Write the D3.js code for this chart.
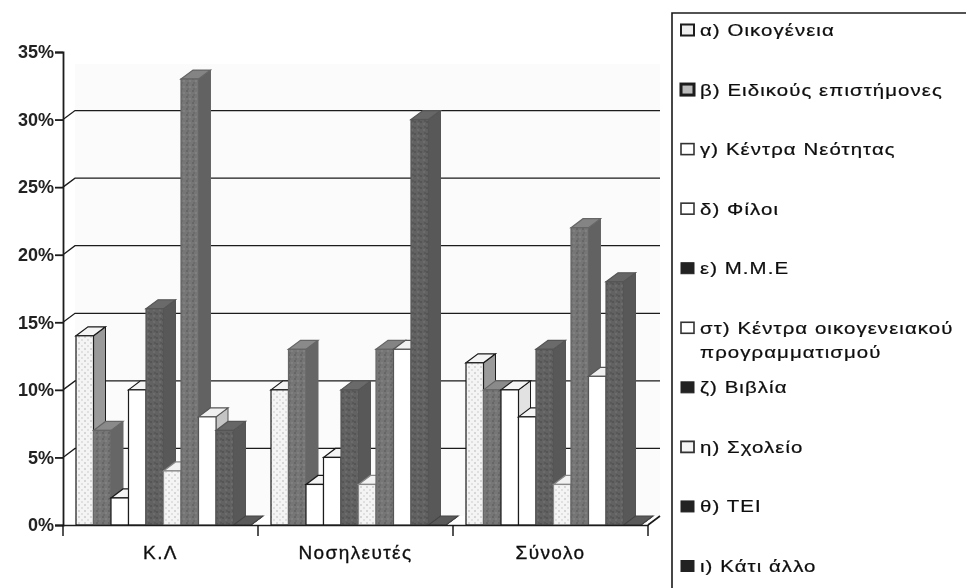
<!DOCTYPE html>
<html>
<head>
<meta charset="utf-8">
<script src="https://cdn.jsdelivr.net/npm/d3@7/dist/d3.min.js"></script>
<style>
  html, body { margin: 0; padding: 0; background: #fff; }
  svg { display: block; }
</style>
</head>
<body>
<div id="chart"></div>
<script>
(function () {
  const categories = ["Κ.Λ", "Νοσηλευτές", "Σύνολο"];
  const seriesLabels = ["α) Οικογένεια", "β) Ειδικούς επιστήμονες", "γ) Κέντρα Νεότητας", "δ) Φίλοι", "ε) Μ.Μ.Ε",
    "στ) Κέντρα οικογενειακού", "ζ) Βιβλία", "η) Σχολείο", "θ) ΤΕΙ", "ι) Κάτι άλλο"];
  const seriesLabelExtra = ["", "", "", "", "", "προγραμματισμού", "", "", "", ""];
  const yTicks = [0, 5, 10, 15, 20, 25, 30, 35];

  const klValues = [14, 7, 2, 10, 16, 4, 33, 8, 7, 0];
  const nurseValues = [10, 13, 3, 5, 10, 3, 13, 13, 30, 0];
  const totalValues = [12, 10, 10, 8, 13, 3, 22, 11, 18, 0];

  const W = 966, H = 588;
  const INK = "#1a1a1a";
  const FONT = '"Liberation Sans", Arial, sans-serif';
  const DX = 12, DY = 9;

  // face fill, side, top per series
  const faces = [
    { front: "url(#dots)", side: "#9a9a9a", top: "#f4f4f4", line: INK },
    { front: "url(#grainMid)", side: "#666", top: "#8a8a8a", line: "#666" },
    { front: "#fff", side: "#e2e2e2", top: "#f4f4f4", line: INK },
    { front: "#fff", side: "#dcdcdc", top: "#f4f4f4", line: INK },
    { front: "url(#grainDark)", side: "#595959", top: "#6a6a6a", line: "#555" },
    { front: "url(#dots)", side: "#d0d0d0", top: "#f2f2f2", line: "#888" },
    { front: "url(#grainMid)", side: "#626262", top: "#848484", line: "#666" },
    { front: "#fff", side: "#c4c4c4", top: "#f0f0f0", line: "#555" },
    { front: "url(#grainDark)", side: "#595959", top: "#666", line: "#555" },
    { front: "url(#grainDark)", side: "#595959", top: "#5a5a5a", line: "#444" }
  ];
  const swatches = [
    { fill: "#eee", stroke: INK, sw: 2 }, { fill: "#bbb", stroke: INK, sw: 3 },
    { fill: "#fff", stroke: "#333", sw: 1.6 }, { fill: "#fff", stroke: "#333", sw: 1.6 },
    { fill: "#222", stroke: "#222", sw: 1 }, { fill: "#fff", stroke: "#333", sw: 1.6 },
    { fill: "#222", stroke: "#222", sw: 1 }, { fill: "#f4f4f4", stroke: "#333", sw: 1.8 },
    { fill: "#222", stroke: "#222", sw: 1 }, { fill: "#222", stroke: "#222", sw: 1 }
  ];

  const svg = d3.select("#chart").append("svg")
    .attr("width", W).attr("height", H)
    .style("font-family", FONT);

  const defs = svg.append("defs");
  defs.append("filter").attr("id", "scan")
    .append("feGaussianBlur").attr("stdDeviation", 0.5);

  function addGrain(id, base, spots) {
    const p = defs.append("pattern").attr("id", id)
      .attr("patternUnits", "userSpaceOnUse").attr("width", 6).attr("height", 6);
    p.append("rect").attr("width", 6).attr("height", 6).attr("fill", base);
    spots.forEach(s => {
      p.append("rect").attr("x", s[0]).attr("y", s[1]).attr("width", 2).attr("height", 2).attr("fill", s[2]);
    });
  }
  addGrain("dots", "#f4f4f4", [[0, 0, "#d6d6d6"], [3, 3, "#e0e0e0"]]);
  addGrain("grainMid", "#767676", [[0, 0, "#666"], [3, 2, "#808080"], [1, 4, "#6c6c6c"]]);
  addGrain("grainDark", "#626262", [[0, 1, "#545454"], [3, 3, "#6c6c6c"], [4, 0, "#585858"]]);

  const plot = svg.append("g").attr("filter", "url(#scan)");

  const x0 = d3.scaleBand().domain(categories).range([63, 648]);
  const x1 = d3.scaleBand().domain(seriesLabels).range([13, 188]);
  const y = d3.scaleLinear().domain([0, 35]).range([525, 52]);

  // back wall
  plot.append("rect")
    .attr("x", x0.range()[0] + DX).attr("y", y(33) - DY - 6)
    .attr("width", x0.range()[1] - x0.range()[0]).attr("height", y(0) - y(33) + 6)
    .attr("fill", "#fbfbfb");

  // gridlines on the back wall, with the diagonal down to each tick
  yTicks.filter(t => t > 0 && t < 35).forEach(t => {
    plot.append("path")
      .attr("d", d3.line()([
        [x0.range()[0], y(t)],
        [x0.range()[0] + DX, y(t) - DY],
        [x0.range()[1] + DX, y(t) - DY]
      ]))
      .attr("fill", "none").attr("stroke", INK).attr("stroke-width", 1.3);
  });

  // bars, left to right so later bars cover the sides of earlier ones
  const valueRows = [klValues, nurseValues, totalValues];
  categories.forEach((cat, ci) => {
    seriesLabels.forEach((name, si) => {
      const v = valueRows[ci][si];
      const f = faces[si];
      const xl = x0(cat) + x1(name);
      const w = x1.bandwidth();
      const yt = y(v), yb = y(0);
      const g = plot.append("g");

      g.append("path")
        .attr("d", d3.line()([[xl + w, yt], [xl + w + DX, yt - DY], [xl + w + DX, yb - DY], [xl + w, yb]]) + "Z")
        .attr("fill", f.side).attr("stroke", f.line).attr("stroke-width", 1);
      g.append("path")
        .attr("d", d3.line()([[xl, yt], [xl + DX, yt - DY], [xl + w + DX, yt - DY], [xl + w, yt]]) + "Z")
        .attr("fill", f.top).attr("stroke", f.line).attr("stroke-width", 1.2);
      g.append("rect")
        .attr("x", xl).attr("y", yt).attr("width", w).attr("height", yb - yt)
        .attr("fill", f.front).attr("stroke", f.line).attr("stroke-width", 1.2);
    });
  });

  // axes
  const yAxis = d3.axisLeft(y).tickValues(yTicks).tickFormat(d => d + "%").tickSize(8).tickPadding(1);
  const yG = plot.append("g").attr("transform", `translate(${x0.range()[0]},0)`).call(yAxis);
  yG.selectAll("text").attr("font-size", 18).attr("font-weight", 700).attr("fill", "#222").style("font-family", FONT);

  const xAxis = d3.axisBottom(x0).tickSize(0).tickPadding(21);
  const xG = plot.append("g").attr("transform", `translate(0,${y(0)})`).call(xAxis);
  xG.selectAll("text").attr("font-size", 19).attr("font-weight", 400).attr("fill", "#111")
    .attr("letter-spacing", 1.4)
    .attr("stroke", "#111").attr("stroke-width", 0.35).style("font-family", FONT);

  yG.selectAll("path, line").attr("stroke", INK).attr("stroke-width", 1.8);
  xG.selectAll("path").attr("stroke", INK).attr("stroke-width", 1.6);

  // separators under the category axis
  x0.domain().concat([null]).forEach(c => {
    const xp = c === null ? x0.range()[1] : x0(c);
    plot.append("line")
      .attr("x1", xp).attr("x2", xp).attr("y1", y(0)).attr("y2", y(0) + 11)
      .attr("stroke", INK).attr("stroke-width", 1.5);
  });
  plot.append("line")
    .attr("x1", x0.range()[1]).attr("y1", y(0))
    .attr("x2", x0.range()[1] + DX).attr("y2", y(0) - DY)
    .attr("stroke", INK).attr("stroke-width", 1.6);

  // legend
  const legendY = d3.scalePoint().domain(seriesLabels).range([30, 566]);
  const legend = svg.append("g").attr("filter", "url(#scan)");
  legend.append("path")
    .attr("d", d3.line()([[672, H], [672, 13], [W, 13]]))
    .attr("fill", "none").attr("stroke", INK).attr("stroke-width", 1.6);

  function legendText(x, yPos, str) {
    legend.append("text")
      .attr("transform", `translate(${x},${yPos}) scale(1.2,1)`)
      .attr("font-size", 17).attr("letter-spacing", 0.9).attr("fill", "#111")
      .attr("stroke", "#111").attr("stroke-width", 0.25)
      .text(str);
  }

  seriesLabels.forEach((name, i) => {
    const ly = legendY(name);
    const s = swatches[i];
    legend.append("rect")
      .attr("x", 681).attr("y", ly - 5.5).attr("width", 13).attr("height", 11)
      .attr("fill", s.fill).attr("stroke", s.stroke).attr("stroke-width", s.sw);
    legendText(700, ly + 6, name);
    if (seriesLabelExtra[i]) legendText(700, ly + 30, seriesLabelExtra[i]);
  });
})();
</script>
</body>
</html>
